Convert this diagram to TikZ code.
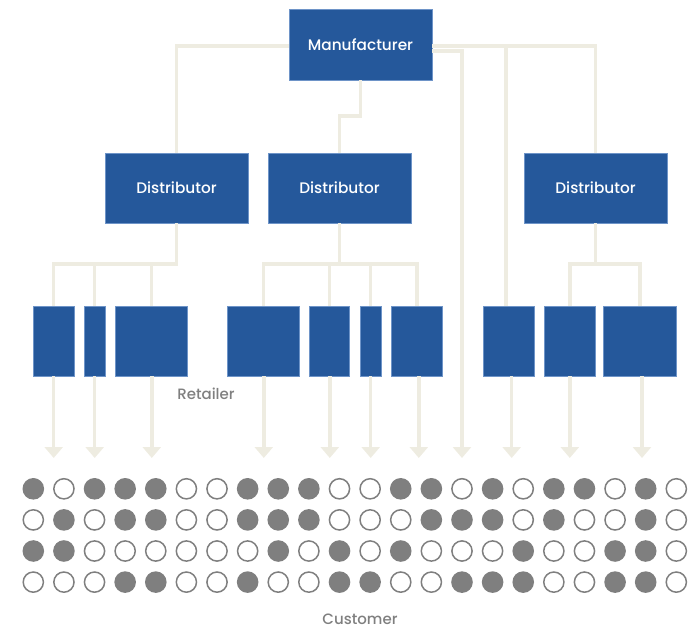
\documentclass[tikz,border=0pt]{standalone}
\usepackage{fontspec}
\setmainfont{Poppins}[UprightFont=* Medium]
\usetikzlibrary{arrows.meta}
\definecolor{boxblue}{RGB}{37,88,155}
\definecolor{boxedge}{RGB}{110,148,200}
\definecolor{linetan}{RGB}{238,236,225}
\definecolor{dotgray}{RGB}{127,127,127}
\begin{document}
\begin{tikzpicture}[x=1pt,y=-1pt,
  box/.style={fill=boxblue,draw=boxedge,line width=0.6pt,inner sep=0pt,
    minimum height=70pt,text=white,font=\fontsize{15.3}{18}\selectfont},
  conn/.style={draw=linetan,line width=3.5pt},
  arr/.style={conn,-{Triangle[width=18pt,length=11pt]}},
  lbl/.style={text=dotgray,font=\fontsize{15}{18}\selectfont,inner sep=0pt,anchor=base},
  dotfull/.style={fill=dotgray},
  dotopen/.style={draw=dotgray,line width=1.5pt}]
\useasboundingbox (0,0) rectangle (692,628);

% boxes
\node[box,minimum width=143pt,minimum height=71pt] (M) at (360.5,44.5) {Manufacturer};
\node[box,minimum width=143pt] (D1) at (176.5,188) {Distributor};
\node[box,minimum width=143pt] (D2) at (339.5,188) {Distributor};
\node[box,minimum width=143pt] (D3) at (595.5,188) {Distributor};

\node[box,minimum width=40.7pt] (R1) at (53.7,341) {};
\node[box,minimum width=20.7pt] (R2) at (94.7,341) {};
\node[box,minimum width=72pt]   (R3) at (151.3,341) {};
\node[box,minimum width=71.3pt] (R4) at (263.3,341) {};
\node[box,minimum width=40.7pt] (R5) at (329.3,341) {};
\node[box,minimum width=20.7pt] (R6) at (370.7,341) {};
\node[box,minimum width=51pt]   (R7) at (416.8,341) {};
\node[box,minimum width=51pt]   (R8) at (508.5,341) {};
\node[box,minimum width=51pt]   (R9) at (569.8,341) {};
\node[box,minimum width=73.4pt] (R10) at (640,341) {};

\node[lbl] (ret) at (206,399.5) {Retailer};
\node[lbl] (cus) at (360,624.5) {Customer};

% helper coordinates
\coordinate (b) at (0,264);
\coordinate (tip) at (0,458);
\coordinate (j8) at (506,46);
\coordinate (t0) at (462,458);

% manufacturer links
\draw[conn] ([yshift=-1.5pt]M.west) -| (D1.north);
\draw[conn] (M.south) -- (M.south |- 0,116) -| (D2.north);
\draw[conn] ([yshift=-1.5pt]M.east) -| (D3.north);
\draw[conn] (j8) -- (j8 |- R8.north);
\draw[arr] ([yshift=-6.5pt]M.east) -| (t0);

% distributor 1
\draw[conn] (D1.south) |- (R1.north |- b) -- (R1.north);
\draw[conn] (R2.north |- b) -- (R2.north);
\draw[conn] (R3.north |- b) -- (R3.north);
% distributor 2
\draw[conn] (D2.south) -- (D2.south |- b);
\draw[conn] (R4.north) -- (R4.north |- b) -- (R7.north |- b) -- (R7.north);
\draw[conn] (R5.north |- b) -- (R5.north);
\draw[conn] (R6.north |- b) -- (R6.north);
% distributor 3
\draw[conn] (D3.south) -- (D3.south |- b);
\draw[conn] (R9.north) -- (R9.north |- b) -- (R10.north |- b) -- (R10.north);

% retailer arrows
\foreach \n/\s in {R1/0,R2/0,R3/0.5,R4/0.5,R5/0.5,R6/0,R7/2,R8/3.2,R9/0,R10/2}
  \draw[arr] ([xshift=\s pt]\n.south) -- ([xshift=\s pt]\n.south |- tip);

% customers
\foreach \row [count=\r] in {
  {1,0,1,1,1,0,0,1,1,1,0,0,1,1,0,1,0,1,1,0,1,0},
  {0,1,0,1,1,0,0,1,1,1,0,0,0,1,1,1,0,1,0,0,1,0},
  {1,1,0,0,0,0,0,0,1,0,1,0,1,0,0,0,1,0,0,1,1,0},
  {0,0,0,1,1,0,0,1,0,0,1,1,0,0,1,1,1,0,0,1,1,0}}{
  \foreach \v [count=\c] in \row {
    \pgfmathsetmacro{\cx}{33.3+(\c-1)*30.62}
    \pgfmathsetmacro{\cy}{488.8+(\r-1)*31.1}
    \ifnum\v=1
      \fill[dotfull] (\cx,\cy) circle[radius=10.8pt];
    \else
      \draw[dotopen] (\cx,\cy) circle[radius=10.1pt];
    \fi
  }
}
\end{tikzpicture}
\end{document}
